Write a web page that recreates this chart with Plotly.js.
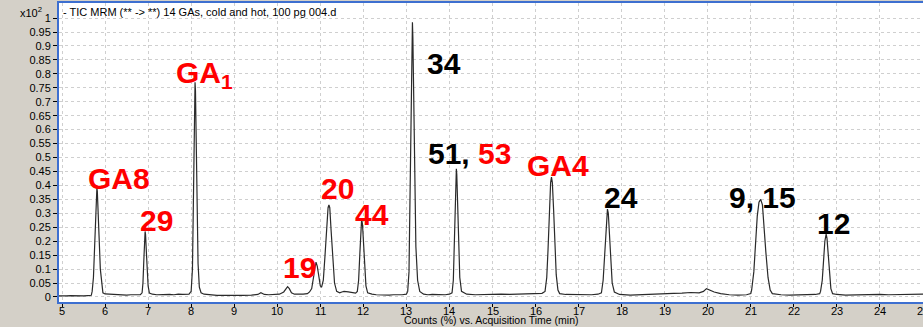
<!DOCTYPE html>
<html>
<head>
<meta charset="utf-8">
<script src="https://cdn.plot.ly/plotly-3.0.1.min.js"></script>
<style>html,body{margin:0;padding:0;background:#d4d0c8;overflow:hidden;}#chart{width:923px;height:327px;}</style>
</head>
<body>
<div id="chart"></div>
<script>
// Acquisition time (min)
const timeMin = [
4.93,5.0,5.1,5.2,5.3,5.4,5.5,5.6,5.68,
5.70,5.73,5.76,5.78,5.80,5.81,5.82,5.84,5.86,5.89,5.92,5.95,
6.0,6.1,6.2,6.3,6.4,6.5,6.6,6.7,6.82,
6.86,6.88,6.90,6.92,6.93,6.94,6.96,6.98,7.00,7.03,
7.1,7.2,7.3,7.4,7.5,7.6,7.7,7.8,7.95,
8.00,8.03,8.05,8.07,8.08,8.09,8.10,8.12,8.14,8.16,8.19,8.23,
8.3,8.4,8.5,8.6,8.8,9.0,9.2,9.4,9.55,9.62,9.7,9.8,9.9,10.05,10.15,
10.20,10.24,10.28,10.33,10.4,10.5,10.6,10.7,10.75,
10.80,10.84,10.87,10.90,10.93,10.96,11.00,11.03,11.07,11.11,11.15,11.18,11.20,11.22,11.25,11.29,11.33,11.38,
11.45,11.5,11.55,11.65,11.75,11.82,
11.86,11.89,11.92,11.94,11.96,11.98,12.00,12.03,12.06,12.10,
12.2,12.3,12.4,12.5,12.6,12.7,12.8,12.9,13.0,
13.03,13.06,13.08,13.10,13.12,13.13,13.14,13.15,13.17,13.19,13.22,13.26,13.31,
13.4,13.5,13.6,13.7,13.8,13.9,14.0,
14.06,14.09,14.11,14.13,14.15,14.16,14.17,14.19,14.21,14.24,14.28,
14.4,14.6,14.8,15.0,15.2,15.4,15.6,15.8,16.0,16.15,
16.22,16.26,16.29,16.32,16.35,16.37,16.39,16.42,16.45,16.48,16.52,16.56,
16.7,16.9,17.1,17.3,17.45,
17.53,17.57,17.60,17.63,17.66,17.67,17.69,17.72,17.75,17.78,17.83,
17.95,18.2,18.5,18.8,19.0,19.2,19.4,19.6,19.8,19.9,19.97,20.05,20.15,20.3,20.5,20.7,20.9,21.0,
21.02,21.07,21.11,21.15,21.19,21.23,21.27,21.31,21.35,21.40,21.45,21.5,
21.7,21.9,22.1,22.3,22.5,22.6,
22.62,22.66,22.69,22.72,22.75,22.77,22.80,22.83,22.86,22.9,
23.0,23.2,23.4,23.6,23.8,24.0,24.2,24.4,24.6,24.8,25.0
];
// Counts (x10^2)
const counts = [
0.004,0.005,0.004,0.005,0.004,0.005,0.004,0.005,0.006,
0.02,0.07,0.19,0.29,0.37,0.39,0.38,0.32,0.22,0.10,0.04,0.015,
0.011,0.010,0.009,0.008,0.009,0.007,0.008,0.007,0.008,
0.015,0.05,0.13,0.21,0.235,0.225,0.16,0.09,0.04,0.014,
0.010,0.008,0.009,0.008,0.009,0.008,0.010,0.009,0.010,
0.02,0.10,0.32,0.62,0.72,0.77,0.74,0.56,0.30,0.12,0.035,0.015,
0.010,0.008,0.007,0.006,0.006,0.005,0.006,0.007,0.009,0.015,0.009,0.008,0.009,0.010,0.018,
0.030,0.037,0.030,0.015,0.010,0.009,0.010,0.012,0.018,
0.03,0.07,0.11,0.125,0.11,0.07,0.04,0.035,0.06,0.15,0.26,0.32,0.33,0.32,0.24,0.12,0.05,0.02,
0.015,0.018,0.02,0.018,0.016,0.014,
0.02,0.06,0.16,0.24,0.28,0.26,0.19,0.10,0.04,0.015,
0.010,0.008,0.007,0.008,0.007,0.008,0.007,0.008,0.010,
0.02,0.09,0.30,0.58,0.84,0.93,0.985,0.93,0.70,0.44,0.18,0.06,0.02,
0.010,0.008,0.009,0.008,0.009,0.008,0.010,
0.015,0.06,0.17,0.33,0.44,0.46,0.44,0.33,0.19,0.07,0.02,
0.010,0.008,0.009,0.008,0.010,0.009,0.010,0.011,0.012,0.013,
0.02,0.07,0.17,0.30,0.41,0.43,0.41,0.31,0.18,0.08,0.025,0.012,
0.009,0.008,0.009,0.008,0.010,
0.015,0.06,0.14,0.24,0.31,0.315,0.30,0.22,0.12,0.05,0.018,
0.009,0.007,0.008,0.010,0.011,0.013,0.014,0.016,0.015,0.020,0.030,0.024,0.018,0.012,0.008,0.007,0.008,0.012,
0.025,0.09,0.19,0.29,0.34,0.35,0.33,0.26,0.16,0.07,0.025,0.012,
0.008,0.007,0.008,0.007,0.009,0.012,
0.02,0.06,0.13,0.20,0.225,0.21,0.15,0.08,0.03,0.012,
0.009,0.007,0.008,0.007,0.008,0.009,0.008,0.009,0.008,0.009,0.010
];
// Peak labels
const peakLabels = ["GA8","29","GA<sub>1</sub>","19","20","44","34","51, <span style='color:#ff0000'>53</span>","GA4","24","9, 15","12"];
const labelColors = ["#ff0000","#ff0000","#ff0000","#ff0000","#ff0000","#ff0000","#000000","#000000","#ff0000","#000000","#000000","#000000"];
const labelX = [6.335,7.195,8.31,10.505,11.388,12.212,13.873,14.454,16.51,17.996,21.283,22.932];
const labelY = [0.425,0.274,0.796,0.106,0.389,0.296,0.836,0.514,0.473,0.355,0.358,0.262];

const yTicks = [0,0.05,0.1,0.15,0.2,0.25,0.3,0.35,0.4,0.45,0.5,0.55,0.6,0.65,0.7,0.75,0.8,0.85,0.9,0.95,1];
const xTicks = [5,6,7,8,9,10,11,12,13,14,15,16,17,18,19,20,21,22,23,24,25];

const FONT = 'Arial, Liberation Sans, sans-serif';

const trace = {
  x: timeMin, y: counts, type: 'scatter', mode: 'lines',
  line: {color: '#2a2a2a', width: 1.2}, hoverinfo: 'skip'
};

const annotations = peakLabels.map((t, i) => ({
  x: labelX[i], y: labelY[i], xref: 'x', yref: 'y', text: t, showarrow: false,
  xanchor: 'center', yanchor: 'middle',
  font: {family: FONT, size: 30, color: labelColors[i], weight: 'bold'}
}));
// x tick labels, placed on the x scale just below the axis
xTicks.forEach(v => annotations.push({
  x: v, xref: 'x', yref: 'paper', y: -0.031, xanchor: 'center', yanchor: 'middle',
  text: String(v), showarrow: false, borderpad: 0,
  font: {family: FONT, size: 11, color: '#000'}
}));
annotations.push({
  xref: 'paper', yref: 'paper', x: -0.017, y: 1.0, xanchor: 'right', yanchor: 'top',
  text: 'x10<sup>2</sup>', showarrow: false,
  font: {family: FONT, size: 11, color: '#000'}
});
annotations.push({
  xref: 'paper', yref: 'paper', x: 0.5, y: -0.0836, xanchor: 'center', yanchor: 'bottom',
  text: 'Counts (%) vs. Acquisition Time (min)', showarrow: false, borderpad: 0,
  font: {family: FONT, size: 10.5, color: '#000'}
});

const layout = {
  width: 923, height: 327,
  paper_bgcolor: '#d4d0c8', plot_bgcolor: '#ffffff',
  margin: {l: 59, r: 0, t: 3, b: 25},
  showlegend: false,
  title: {
    text: '- TIC MRM (** -> **) 14 GAs, cold and hot, 100 pg 004.d',
    x: 63/923, xanchor: 'left', xref: 'container',
    y: 1 - 12/327, yanchor: 'middle', yref: 'container',
    font: {family: FONT, size: 11, color: '#000'}
  },
  xaxis: {
    range: [4.93, 25.0], tickvals: xTicks, showticklabels: false,
    ticks: 'outside', ticklen: 3, tickcolor: '#000',
    showgrid: true, gridcolor: '#cfcfcf', griddash: 'dot', gridwidth: 1,
    zeroline: false, showline: true, linecolor: '#3d6fd0', linewidth: 2, mirror: true,
    automargin: false
  },
  yaxis: {
    range: [-0.018, 1.054], tickvals: yTicks, ticktext: yTicks.map(String),
    ticks: 'outside', ticklen: 4, tickcolor: '#000',
    showgrid: true, gridcolor: '#cfcfcf', griddash: 'dot', gridwidth: 1,
    zeroline: false, showline: true, linecolor: '#3d6fd0', linewidth: 2, mirror: true,
    tickfont: {family: FONT, size: 11, color: '#000'},
    automargin: false
  },
  annotations: annotations
};

Plotly.newPlot('chart', [trace], layout, {displayModeBar: false, staticPlot: true});
</script>
</body>
</html>
